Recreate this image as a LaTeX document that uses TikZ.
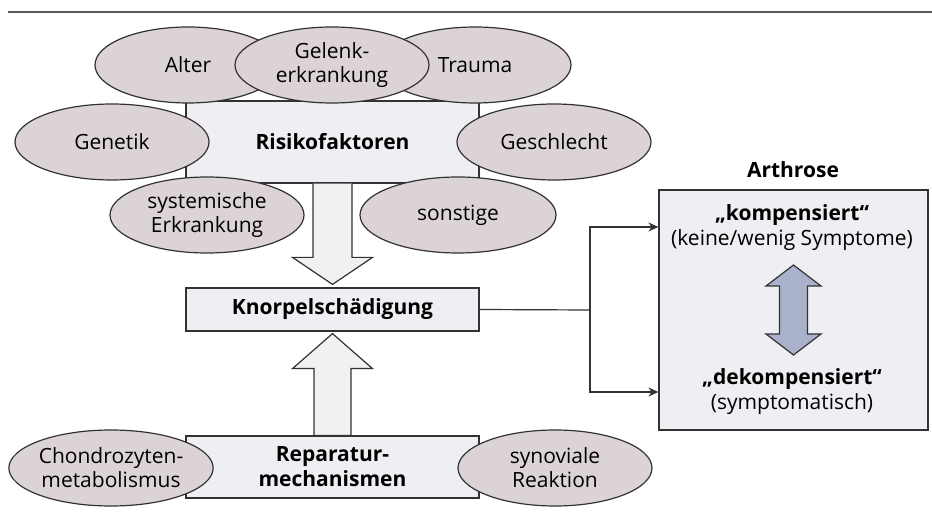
\documentclass[tikz,border=0pt]{standalone}
\usepackage{fontspec}
\setmainfont{Open Sans}
\usetikzlibrary{shapes.geometric,calc,arrows.meta}

\definecolor{ovalfill}{RGB}{220,211,214}
\definecolor{boxfill}{RGB}{239,239,243}
\definecolor{arrowfill}{RGB}{241,241,242}
\definecolor{dblfill}{RGB}{170,178,203}
\definecolor{linegray}{RGB}{50,50,50}

\tikzset{
  factor/.style={ellipse,draw=linegray,fill=ovalfill,line width=0.6pt,
    minimum width=97pt,minimum height=38pt,inner sep=0pt,align=center,
    font=\fontsize{10.5}{12}\selectfont},
  stage/.style={rectangle,draw=linegray,fill=boxfill,line width=0.6pt,
    inner sep=0pt,align=center,font=\fontsize{10.5}{12.5}\selectfont\bfseries},
  hollow/.style={draw=linegray,fill=arrowfill,line width=0.6pt,line join=miter},
  conn/.style={draw=linegray,line width=0.6pt,-{Stealth[length=5pt,width=4.5pt]}},
}

\begin{document}
\begin{tikzpicture}[x=0.5pt,y=-0.5pt]
      \useasboundingbox (0,0) rectangle (932,513);
      \draw[linegray!80,line width=0.75pt] (8,12) -- (932,12);

      % risk factors
      \node[stage,minimum width=146.5pt,minimum height=41pt] (risk) at (332.5,142) {Risikofaktoren};
      \node[factor,minimum width=93pt] (alter) at (188,65) {Alter};
      \node[factor,minimum width=96pt] (trauma) at (475,65) {Trauma};
      \node[factor] (gelenk) at (332,65) {Gelenk-\\erkrankung};
      \node[factor] (genetik) at (112,142) {Genetik};
      \node[factor] (geschlecht) at (554,142) {Geschlecht};
      \node[factor] (systemisch) at (207,215) {systemische\\Erkrankung};
      \node[factor,minimum width=98pt] (sonstige) at (458,215) {sonstige};

      % damage and repair
      \node[stage,minimum width=146.5pt,minimum height=21.5pt] (knorpel) at (332.5,309.5) {Knorpelschädigung};
      \node[stage,minimum width=146.5pt,minimum height=31pt] (reparatur) at (332.5,467) {Reparatur-\\mechanismen};
      \node[factor,minimum width=96pt] (chondro) at (111,468) {Chondrozyten-\\metabolismus};
      \node[factor] (synovia) at (555,468) {synoviale\\Reaktion};

      \draw[hollow] ($(risk.south)+(-19.5,0)$) -- ($(knorpel.north)+(-19.5,-30)$)
        -- ($(knorpel.north)+(-40,-30)$) -- ($(knorpel.north)+(0,-3)$)
        -- ($(knorpel.north)+(40,-30)$) -- ($(knorpel.north)+(19.5,-30)$)
        -- ($(risk.south)+(19.5,0)$);
      \draw[hollow] ($(reparatur.north)+(-18.5,0)$) -- ($(knorpel.south)+(-18.5,37)$)
        -- ($(knorpel.south)+(-40,37)$) -- ($(knorpel.south)+(0,2)$)
        -- ($(knorpel.south)+(40,37)$) -- ($(knorpel.south)+(18.5,37)$)
        -- ($(reparatur.north)+(18.5,0)$) -- cycle;

      % arthrosis
      \node[stage,minimum width=134.5pt,minimum height=120pt] (arth) at (793.5,310) {};
      \node[font=\fontsize{10.5}{12.5}\selectfont\bfseries] (arthlabel) at (793,170) {Arthrose};
      \node[align=center,font=\fontsize{10.5}{12.5}\selectfont] (komp) at (792,228)
        {{\bfseries „kompensiert“}\\(keine/wenig Symptome)};
      \node[align=center,font=\fontsize{10.5}{12.5}\selectfont] (dekomp) at (792,392)
        {{\bfseries „dekompensiert“}\\(symptomatisch)};
      \filldraw[draw=linegray,fill=dblfill,line width=0.6pt]
        ($(arth.center)+(0,-45)$) -- ($(arth.center)+(27.5,-24)$) -- ($(arth.center)+(14,-24)$)
        -- ($(arth.center)+(14,24)$) -- ($(arth.center)+(27.5,24)$) -- ($(arth.center)+(0,45)$)
        -- ($(arth.center)+(-27.5,24)$) -- ($(arth.center)+(-14,24)$) -- ($(arth.center)+(-14,-24)$)
        -- ($(arth.center)+(-27.5,-24)$) -- cycle;

      \coordinate (split) at (590,310);
      \coordinate (kompin) at (arth.west |- 0,227);
      \coordinate (dekompin) at (arth.west |- 0,392);
      \draw[draw=linegray,line width=0.6pt] (knorpel.east) -- (split);
      \draw[conn] (split) |- (kompin);
      \draw[conn] (split) |- (dekompin);
\end{tikzpicture}
\end{document}
